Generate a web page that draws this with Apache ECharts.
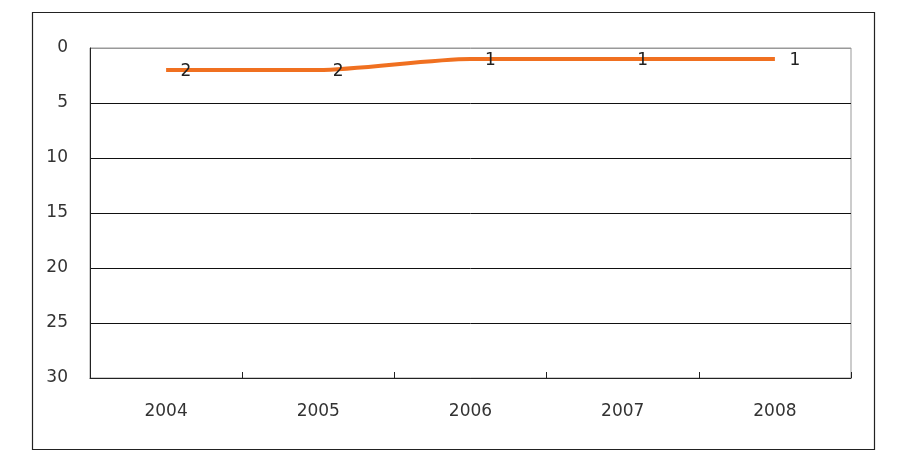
<!DOCTYPE html>
<html><head><meta charset="utf-8">
<script src="https://cdn.jsdelivr.net/npm/echarts@6/dist/echarts.min.js"></script>
<style>html,body{margin:0;padding:0;background:#fff}#c{width:905px;height:457px}</style>
</head><body><div id="c"></div>
<script>
const categories = ['2004','2005','2006','2007','2008'];
const values = [2, 2, 1, 1, 1];
const yTicks = { min: 0, max: 30, interval: 5 };

const chart = echarts.init(document.getElementById('c'), null, {renderer:'canvas'});
chart.setOption({
  backgroundColor: '#fff',
  animation: false,
  textStyle: { fontFamily: 'DejaVu Sans' },
  graphic: [{
    type: 'rect', left: 30, top: 10, silent: true,
    shape: { width: 842, height: 437 },
    style: { fill: 'none', stroke: '#222', lineWidth: 1.2 }
  }],
  grid: { left: 90, right: 54, top: 48, bottom: 79, show: true, borderColor: '#999', borderWidth: 1 },
  xAxis: {
    type: 'category', data: categories, boundaryGap: true,
    axisLine: { onZero: false, lineStyle: { color: '#222', width: 1 } },
    axisTick: { show: true, inside: true, length: 6, lineStyle: { color: '#222' } },
    axisLabel: { color: '#333', fontSize: 17, margin: 25 },
    splitLine: { show: false }
  },
  yAxis: {
    type: 'value', inverse: true, min: yTicks.min, max: yTicks.max, interval: yTicks.interval,
    axisLine: { show: true, lineStyle: { color: '#222', width: 1 } },
    axisTick: { show: false },
    axisLabel: { color: '#333', fontSize: 17, margin: 22 },
    splitLine: { show: true, lineStyle: { color: ['#999', '#111', '#111', '#111', '#111', '#111', '#111'], width: 1 } }
  },
  series: [{
    type: 'line', data: values, smooth: 0.25,
    symbol: 'circle', symbolSize: 1, showSymbol: true,
    itemStyle: { color: 'rgba(0,0,0,0)' },
    lineStyle: { color: '#F07020', width: 4 },
    label: { show: true, position: 'right', distance: 14, offset: [0, 2], color: '#222', fontSize: 17 }
  }]
});
</script></body></html>
